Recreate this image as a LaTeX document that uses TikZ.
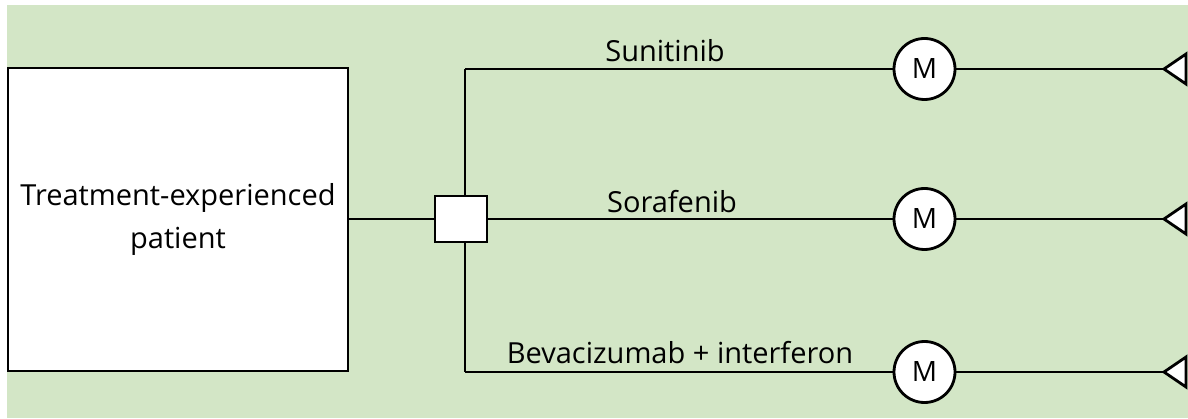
\documentclass[tikz,border=0pt]{standalone}
\usepackage{fontspec}
\setmainfont{Open Sans}
\definecolor{bg}{RGB}{211,230,198}
\begin{document}
\begin{tikzpicture}[x=1pt,y=-1pt,
  lw/.style={line width=2.8pt},
  patient/.style={draw,lw,fill=white,minimum width=340pt,minimum height=303pt,inner sep=0pt,align=center,font=\fontsize{29}{43}\selectfont},
  decision/.style={draw,lw,fill=white,minimum width=52pt,minimum height=46pt,inner sep=0pt},
  markov/.style={circle,draw,lw,fill=white,minimum size=61pt,inner sep=0pt,font=\fontsize{28}{30}\selectfont},
  lbl/.style={font=\fontsize{29}{30}\selectfont,anchor=base,inner sep=0pt},
  term/.style={draw,lw,fill=white,line join=miter}]
\useasboundingbox (0,0) rectangle (1188,419);
\fill[bg] (7,5) rectangle (1188,418);
\coordinate (vt) at (465,69);
\coordinate (vb) at (465,372);
\draw[lw] (vt) -- (vb);
\node[patient] (P) at (178,219.5) {Treatment-experienced\\patient};
\node[decision] (D) at (461,219) {};
\node[markov] (M1) at (924.5,69) {M};
\node[markov] (M2) at (924.5,219) {M};
\node[markov] (M3) at (924.5,372) {M};
\coordinate (T1) at (1164,69);
\coordinate (T2) at (1164,219);
\coordinate (T3) at (1164,372);
\draw[lw] (P.east |- D.west) -- (D.west);
\draw[lw] (D.east) -- (M2.west);
\draw[lw] (vt) -- (M1.west);
\draw[lw] (vb) -- (M3.west);
\foreach \i in {1,2,3}{
  \draw[lw] (M\i.east) -- (T\i);
  \draw[term] (T\i) -- ++(22,-15) -- ++(0,30) -- cycle;
}
\node[lbl] (L1) at (665,62) {Sunitinib};
\node[lbl] (L2) at (672,213) {Sorafenib};
\node[lbl] (L3) at (680,363) {Bevacizumab + interferon};
\end{tikzpicture}
\end{document}
